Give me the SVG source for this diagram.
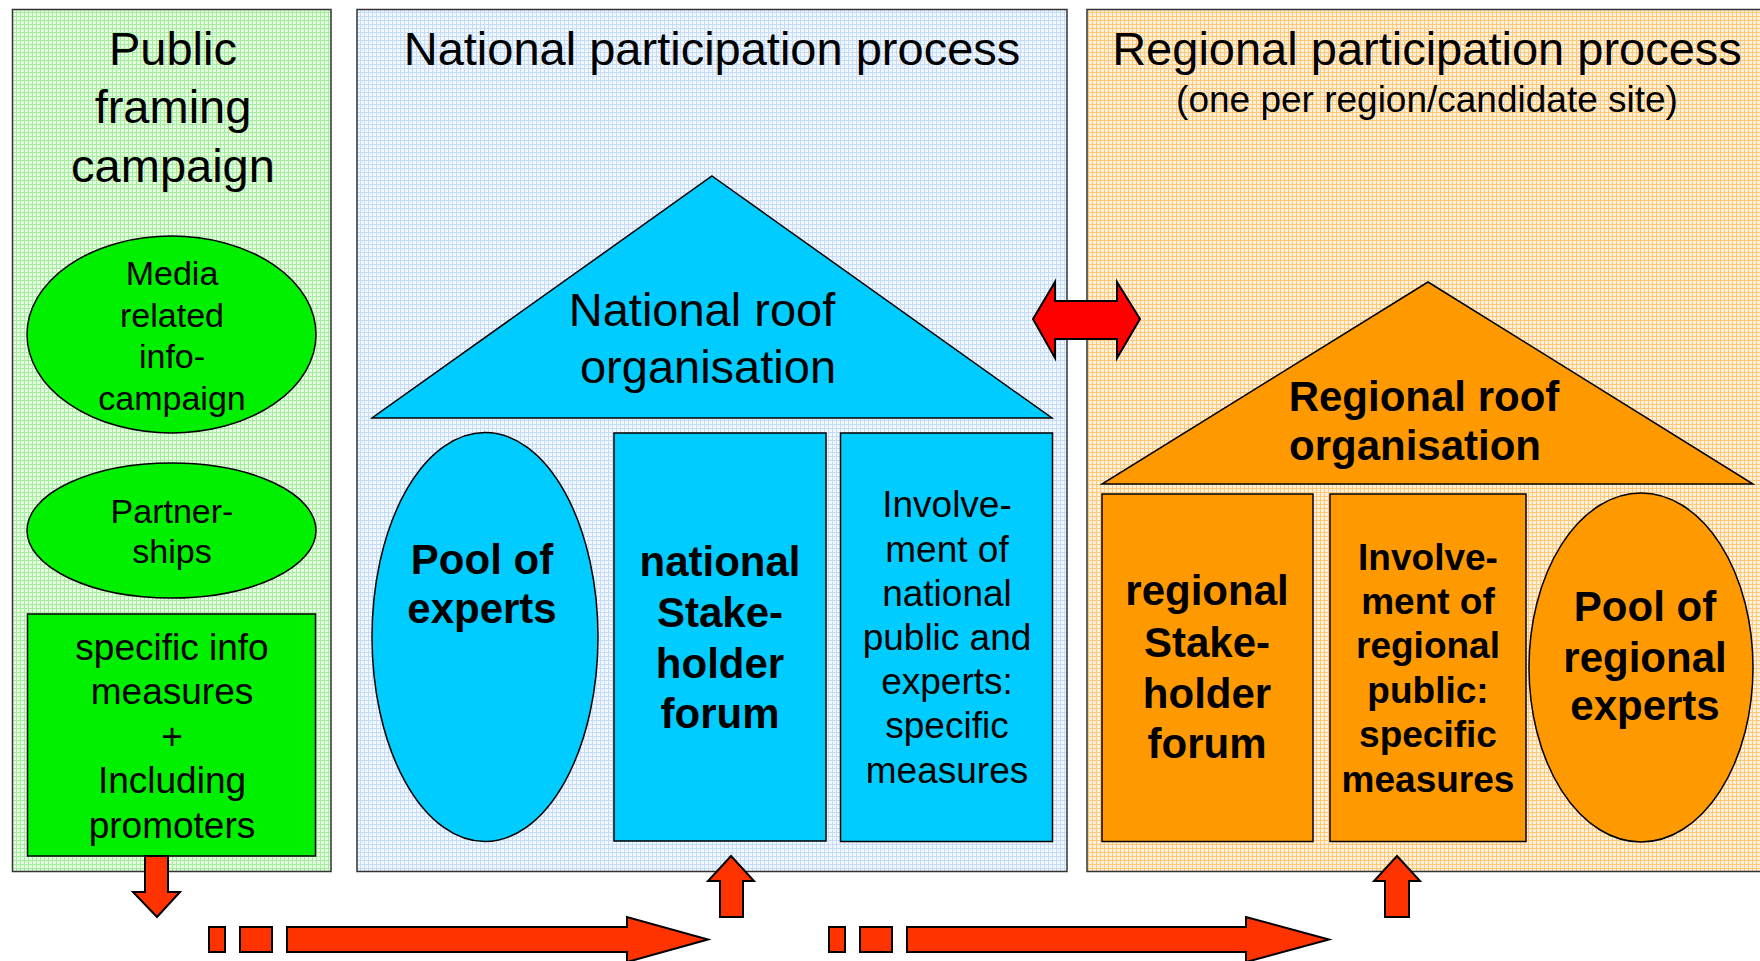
<svg xmlns="http://www.w3.org/2000/svg" width="1760" height="961" viewBox="0 0 1760 961">
<defs>
<pattern id="pg" width="4" height="4" patternUnits="userSpaceOnUse"><rect width="4" height="4" fill="#E4FCE0"/><path d="M0 0.5H4M0.5 0V4" stroke="#A6EC9E" stroke-width="1"/></pattern>
<pattern id="pb" width="4" height="4" patternUnits="userSpaceOnUse"><rect width="4" height="4" fill="#F2F7FF"/><path d="M0 0.5H4M0.5 0V4" stroke="#C4DCF6" stroke-width="1"/></pattern>
<pattern id="po" width="4" height="4" patternUnits="userSpaceOnUse"><rect width="4" height="4" fill="#FFF0DC"/><path d="M0 0.5H4M0.5 0V4" stroke="#FDC878" stroke-width="1"/></pattern>
</defs>
<style>
.panel{stroke:#333;stroke-width:1.5}
.g{fill:#00F000;stroke:#000;stroke-width:1.5}
.b{fill:#00CCFF;stroke:#000;stroke-width:1.5}
.o{fill:#FF9900;stroke:#000;stroke-width:1.5}
.arr{fill:#FF3300;stroke:#000;stroke-width:2;stroke-linejoin:miter}
.dbl{fill:#FF0000;stroke:#000;stroke-width:2}
text{font-family:"Liberation Sans",Arial,sans-serif;fill:#000;text-anchor:middle}
.t47{font-size:47px}
.t37{font-size:37px}
.t34{font-size:34px}
.b42{font-size:42px;font-weight:bold}
.b37{font-size:37px;font-weight:bold}
</style>

<g id="panel-public">
<rect class="panel" x="12.5" y="9.5" width="318.5" height="862" fill="url(#pg)"/>
<text class="t47" x="173" y="65">Public</text>
<text class="t47" x="173" y="123">framing</text>
<text class="t47" x="173" y="182">campaign</text>
</g>
<g id="panel-national">
<rect class="panel" x="357" y="9.5" width="710" height="862" fill="url(#pb)"/>
<text class="t47" x="712" y="65">National participation process</text>
</g>
<g id="panel-regional">
<rect class="panel" x="1087" y="9.5" width="690" height="862" fill="url(#po)"/>
<text class="t47" x="1427" y="65">Regional participation process</text>
<text class="t37" x="1427" y="112">(one per region/candidate site)</text>
</g>

<g id="media">
<ellipse class="g" cx="171.5" cy="334.5" rx="144.5" ry="98.5"/>
<text class="t34" x="172" y="285">Media</text>
<text class="t34" x="172" y="327">related</text>
<text class="t34" x="172" y="368">info-</text>
<text class="t34" x="172" y="410">campaign</text>
</g>
<g id="partnerships">
<ellipse class="g" cx="171.5" cy="530.5" rx="144.5" ry="67.5"/>
<text class="t34" x="172" y="523">Partner-</text>
<text class="t34" x="172" y="563">ships</text>
</g>
<g id="specific-info">
<rect class="g" x="27.5" y="614" width="288" height="242"/>
<text class="t37" x="172" y="660">specific info</text>
<text class="t37" x="172" y="704">measures</text>
<text class="t37" x="172" y="749">+</text>
<text class="t37" x="172" y="793">Including</text>
<text class="t37" x="172" y="838">promoters</text>
</g>

<g id="national-roof">
<polygon class="b" points="712,176 1052,418 372,418"/>
<text class="t47" x="702" y="326">National roof</text>
<text class="t47" x="708" y="383">organisation</text>
</g>
<g id="pool-experts">
<ellipse class="b" cx="485" cy="637" rx="113" ry="204.5"/>
<text class="b42" x="482" y="574">Pool of</text>
<text class="b42" x="482" y="623">experts</text>
</g>
<g id="national-stakeholder">
<rect class="b" x="614" y="433" width="212" height="408"/>
<text class="b42" x="720" y="576">national</text>
<text class="b42" x="720" y="627">Stake-</text>
<text class="b42" x="720" y="678">holder</text>
<text class="b42" x="720" y="728">forum</text>
</g>
<g id="national-involvement">
<rect class="b" x="840.5" y="433" width="212" height="408.5"/>
<text class="t37" x="947" y="517">Involve-</text>
<text class="t37" x="947" y="562">ment of</text>
<text class="t37" x="947" y="606">national</text>
<text class="t37" x="947" y="650">public and</text>
<text class="t37" x="947" y="694">experts:</text>
<text class="t37" x="947" y="738">specific</text>
<text class="t37" x="947" y="783">measures</text>
</g>

<g id="regional-roof">
<polygon class="o" points="1428,282 1753,484 1102,484"/>
<text class="b42" x="1424" y="411">Regional roof</text>
<text class="b42" x="1415" y="460">organisation</text>
</g>
<g id="regional-stakeholder">
<rect class="o" x="1102" y="494" width="211" height="347.5"/>
<text class="b42" x="1207" y="605">regional</text>
<text class="b42" x="1207" y="657">Stake-</text>
<text class="b42" x="1207" y="708">holder</text>
<text class="b42" x="1207" y="758">forum</text>
</g>
<g id="regional-involvement">
<rect class="o" x="1330" y="494" width="196" height="347.5"/>
<text class="b37" x="1428" y="570">Involve-</text>
<text class="b37" x="1428" y="614">ment of</text>
<text class="b37" x="1428" y="658">regional</text>
<text class="b37" x="1428" y="703">public:</text>
<text class="b37" x="1428" y="747">specific</text>
<text class="b37" x="1428" y="792">measures</text>
</g>
<g id="pool-regional-experts">
<ellipse class="o" cx="1641" cy="667.5" rx="112" ry="174.5"/>
<text class="b42" x="1645" y="621">Pool of</text>
<text class="b42" x="1645" y="672">regional</text>
<text class="b42" x="1645" y="720">experts</text>
</g>

<g id="connectors">
<polygon class="dbl" points="1033,319 1055,282 1055,301 1117,301 1117,282 1140,319 1117,358 1117,339 1055,339 1055,358"/>
<polygon class="arr" points="145,856 168,856 168,892 180,892 157,917 133,892 145,892"/>
<polygon class="arr" points="731,856 754,881 743,881 743,917 720,917 720,881 708,881"/>
<polygon class="arr" points="1397,856 1420,881 1409,881 1409,917 1385,917 1385,881 1374,881"/>
<rect class="arr" x="209" y="927" width="16" height="25"/>
<rect class="arr" x="240" y="927" width="32" height="25"/>
<polygon class="arr" points="287,927 627,927 627,917 708,939.5 627,962 627,952 287,952"/>
<rect class="arr" x="829" y="927" width="16" height="25"/>
<rect class="arr" x="860" y="927" width="32" height="25"/>
<polygon class="arr" points="907,927 1246,927 1246,917 1329,939.5 1246,962 1246,952 907,952"/>
</g>
</svg>
